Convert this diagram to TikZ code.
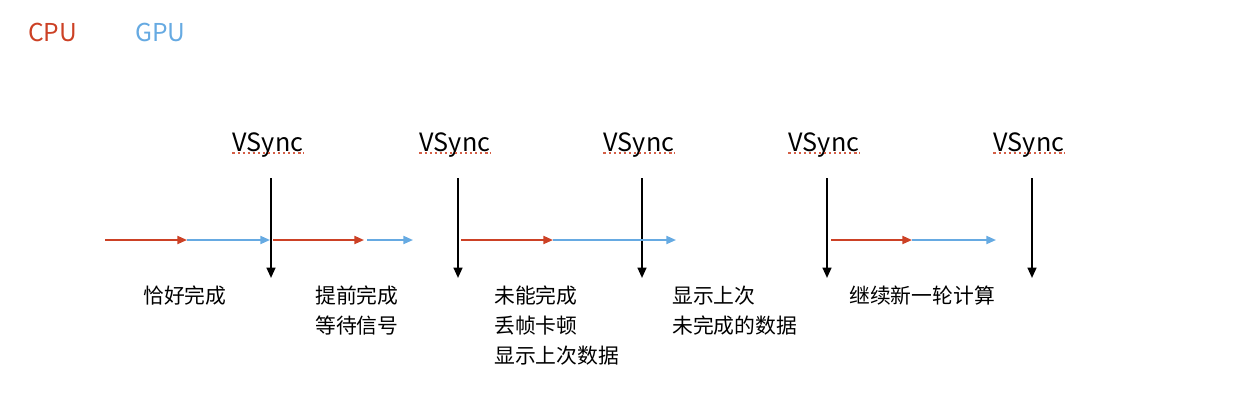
\documentclass[tikz,border=0pt]{standalone}
\usepackage{fontspec}
\newfontfamily\cjk{Noto Sans CJK SC}
\usetikzlibrary{arrows.meta, positioning}
\definecolor{CpuRed}{HTML}{CC4125}
\definecolor{GpuBlue}{HTML}{66AAE2}
\tikzset{
  legend/.style={font=\cjk\fontsize{17.5}{20}\selectfont, inner sep=0pt},
  vlabel/.style={font=\cjk\fontsize{17.9}{22}\selectfont, inner sep=0pt},
  note/.style={font=\cjk\fontsize{14.8}{21.3}\selectfont, inner sep=0pt, anchor=north west, align=left},
  syncarrow/.style={-{Triangle[length=2.6mm, width=2.2mm]}, line width=1.4pt, draw=black},
  cpuarrow/.style={-{Triangle[length=2.4mm, width=2mm]}, line width=1.3pt, draw=CpuRed},
  gpuarrow/.style={-{Triangle[length=2.4mm, width=2mm]}, line width=1.3pt, draw=GpuBlue},
  squiggle/.style={draw=CpuRed!85, line width=1.6pt, dotted}
}
\begin{document}
\begin{tikzpicture}[x=0.025cm, y=-0.025cm]
\useasboundingbox (0,0) rectangle (1234,403);
% legend
\node[legend, text=CpuRed, anchor=west] (cpu) at (28,32) {CPU};
\node[legend, text=GpuBlue, anchor=west] (gpu) at (135,32) {GPU};
% vsync signals
\foreach \i/\x in {1/271, 2/458, 3/642, 4/827, 5/1032} {
  \node[vlabel, anchor=base] (v\i) at (\x-3,151) {VSync};
  \draw[squiggle] ([yshift=-1.5pt]v\i.base west) -- ([yshift=-1.5pt]v\i.base east);
  \coordinate (t\i) at (\x,178);
  \coordinate (b\i) at (\x,278);
  \draw[syncarrow] (t\i) -- (b\i);
}
% frame work
\coordinate (c1) at (105,240);
\coordinate (c2) at (187,240);
\coordinate (c3) at (270,240);
\coordinate (c4) at (273,240);
\coordinate (c5) at (364,240);
\coordinate (c6) at (367,240);
\coordinate (c7) at (413,240);
\draw[cpuarrow] (c1) -- (c2);
\draw[gpuarrow] (c2) -- (c3);
\draw[cpuarrow] (c4) -- (c5);
\draw[gpuarrow] (c6) -- (c7);
\coordinate (d1) at (461,240);
\coordinate (d2) at (553,240);
\coordinate (d3) at (676,240);
\draw[cpuarrow] (d1) -- (d2);
\draw[gpuarrow] (d2) -- (d3);
\coordinate (e1) at (831,240);
\coordinate (e2) at (912,240);
\coordinate (e3) at (996,240);
\draw[cpuarrow] (e1) -- (e2);
\draw[gpuarrow] (e2) -- (e3);
% notes
\node[note] (n1) at (143,286) {恰好完成};
\node[note] (n2) at (315,286) {提前完成\\等待信号};
\node[note] (n3) at (494,286) {未能完成\\丢帧卡顿\\显示上次数据};
\node[note] (n4) at (672,286) {显示上次\\未完成的数据};
\node[note] (n5) at (849,286) {继续新一轮计算};
\end{tikzpicture}
\end{document}
